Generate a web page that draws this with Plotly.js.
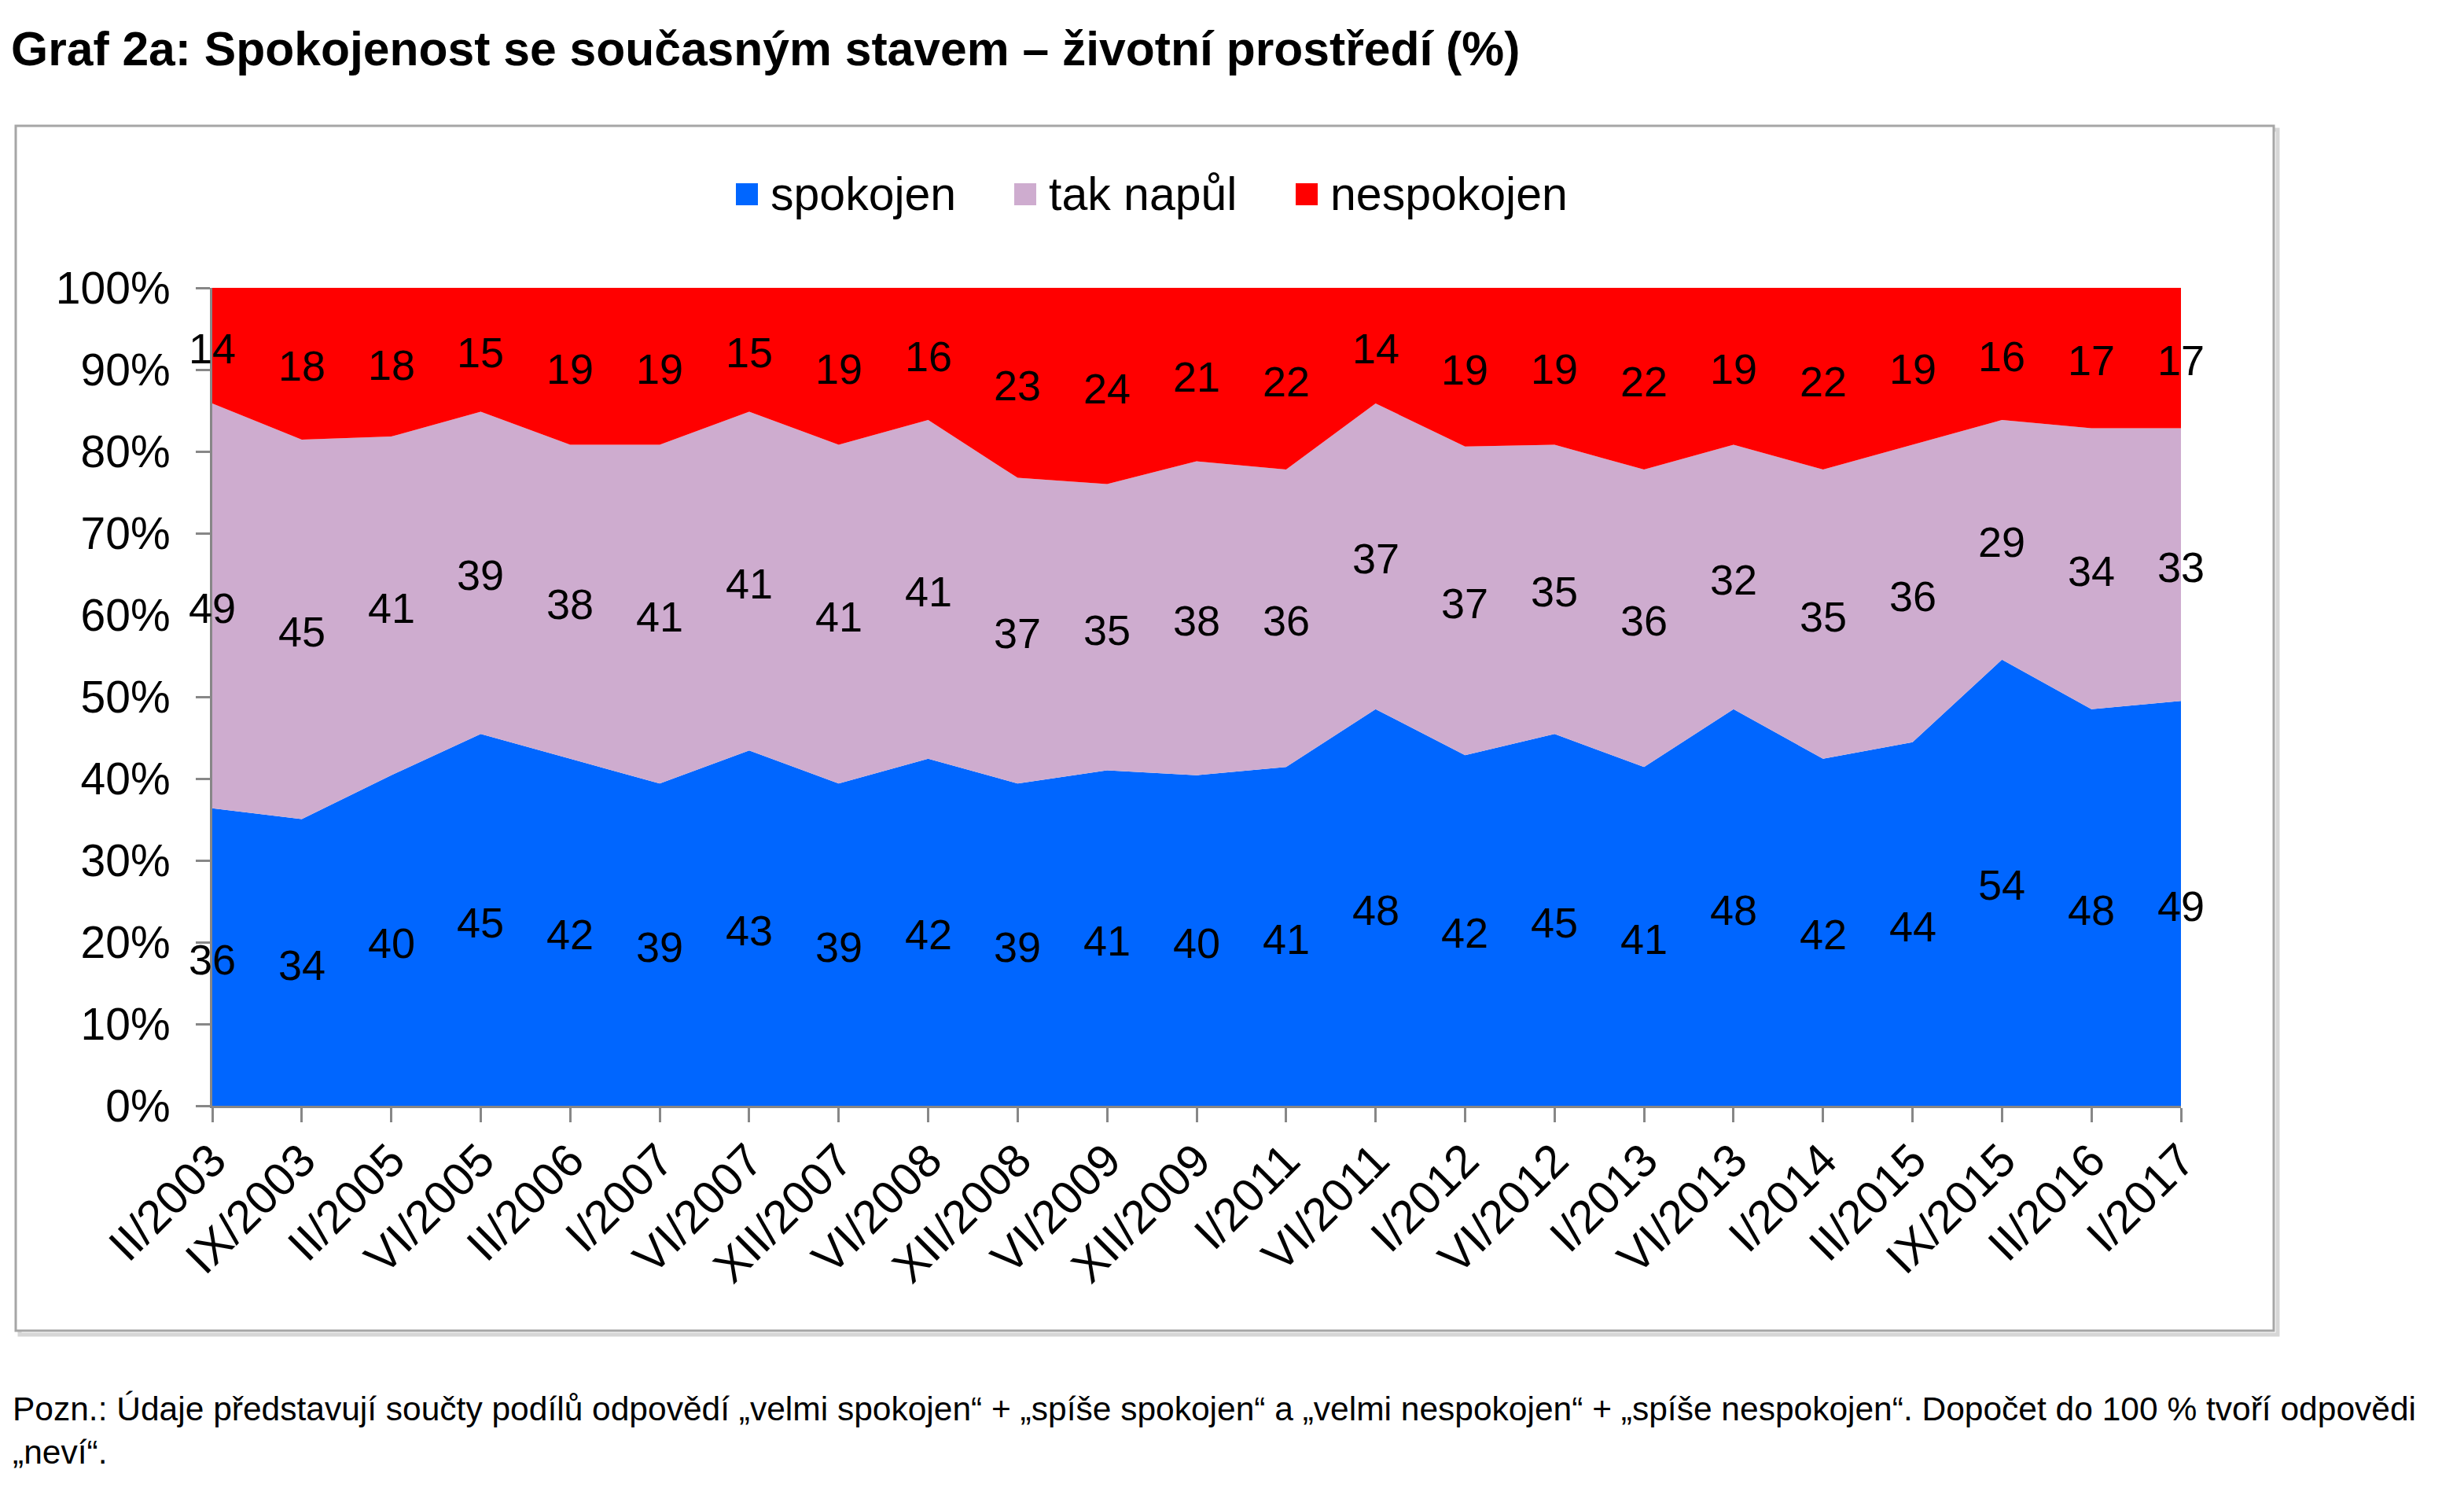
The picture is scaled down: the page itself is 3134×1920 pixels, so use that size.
<!DOCTYPE html>
<html>
<head>
<meta charset="utf-8">
<script src="https://cdn.plot.ly/plotly-3.0.1.min.js"></script>
<style>
  html, body { margin: 0; padding: 0; background: #ffffff; }
  #chart { width: 3134px; height: 1920px; }
</style>
</head>
<body>
<div id="chart"></div>
<script>
// Survey waves
const categories = ['II/2003', 'IX/2003', 'II/2005', 'VI/2005', 'II/2006', 'I/2007', 'VI/2007',
  'XII/2007', 'VI/2008', 'XII/2008', 'VI/2009', 'XII/2009', 'I/2011', 'VI/2011', 'I/2012',
  'VI/2012', 'I/2013', 'VI/2013', 'I/2014', 'II/2015', 'IX/2015', 'II/2016', 'I/2017'];

// Shares of answers (%)
const spokojen   = [36, 34, 40, 45, 42, 39, 43, 39, 42, 39, 41, 40, 41, 48, 42, 45, 41, 48, 42, 44, 54, 48, 49];
const takNapul   = [49, 45, 41, 39, 38, 41, 41, 41, 41, 37, 35, 38, 36, 37, 37, 35, 36, 32, 35, 36, 29, 34, 33];
const nespokojen = [14, 18, 18, 15, 19, 19, 15, 19, 16, 23, 24, 21, 22, 14, 19, 19, 22, 19, 22, 19, 16, 17, 17];

const seriesNames = ['spokojen', 'tak napůl', 'nespokojen'];
const yTickVals = [0, 10, 20, 30, 40, 50, 60, 70, 80, 90, 100];
const yTickText = yTickVals.map(v => v + '%');

const titleText = 'Graf 2a: Spokojenost se současným stavem – životní prostředí (%)';
const noteText = 'Pozn.: Údaje představují součty podílů odpovědí „velmi spokojen“ + „spíše spokojen“ a „velmi nespokojen“ + „spíše nespokojen“. Dopočet do 100 % tvoří odpovědi<br>„neví“.';

// ---- styling / geometry ----
const colors = ['#0066FF', '#CEACCF', '#FF0000'];
const FONT = 'Liberation Sans, Arial, sans-serif';
const W = 3134, H = 1920;
const M = { l: 270, r: 360, t: 366, b: 514 };
const PW = W - M.l - M.r, PH = H - M.t - M.b;
const px = x => (x - M.l) / PW;           // pixel x -> paper x
const py = y => (H - M.b - y) / PH;       // pixel y -> paper y

const series = [spokojen, takNapul, nespokojen];

// Stacked areas normalised to 100 %
const areaTraces = series.map((vals, i) => ({
  type: 'scatter',
  x: categories,
  y: vals,
  name: seriesNames[i],
  stackgroup: 'one',
  groupnorm: i === 0 ? 'percent' : undefined,
  mode: 'none',
  fillcolor: colors[i],
  line: { width: 0 },
  showlegend: false,
  hoverinfo: 'skip'
}));

// Value labels centred inside each band
const valueLabels = [];
series.forEach((vals, i) => {
  vals.forEach((v, k) => {
    const total = spokojen[k] + takNapul[k] + nespokojen[k];
    let below = 0;
    for (let j = 0; j < i; j++) below += series[j][k];
    valueLabels.push({
      xref: 'x', yref: 'y',
      x: categories[k],
      y: (below + v / 2) / total * 100,
      text: String(v),
      showarrow: false,
      xanchor: 'center', yanchor: 'middle',
      yshift: -3,
      font: { family: FONT, size: 54, color: '#000000' }
    });
  });
});

// Legend built from coloured squares and labels
const legendX = [936, 1290, 1648];
const legendY = 247;
const sq = 28;
const legendShapes = seriesNames.map((n, i) => ({
  type: 'rect', xref: 'paper', yref: 'paper',
  x0: px(legendX[i]), x1: px(legendX[i] + sq),
  y0: py(legendY + sq / 2), y1: py(legendY - sq / 2),
  fillcolor: colors[i], line: { width: 0 }
}));
const legendAnnots = seriesNames.map((n, i) => ({
  xref: 'paper', yref: 'paper',
  x: px(legendX[i] + sq + 14), y: py(legendY),
  xanchor: 'left', yanchor: 'middle',
  text: n, showarrow: false,
  font: { family: FONT, size: 59, color: '#000000' }
}));

// Frame around the chart with a soft shadow
const frame = { x0: 20, x1: 2892, y0: 160, y1: 1692 };
const frameShapes = [
  { type: 'rect', xref: 'paper', yref: 'paper', layer: 'below',
    x0: px(frame.x0 + 5), x1: px(frame.x1 + 5), y0: py(frame.y1 + 5), y1: py(frame.y0 + 5),
    line: { color: '#D6D6D6', width: 5 } },
  { type: 'rect', xref: 'paper', yref: 'paper', layer: 'below',
    x0: px(frame.x0), x1: px(frame.x1), y0: py(frame.y1), y1: py(frame.y0),
    line: { color: '#A6A6A6', width: 3 }, fillcolor: '#FFFFFF' }
];

const axisCommon = {
  showline: true, linecolor: '#878787', linewidth: 3,
  ticks: 'outside', ticklen: 18, tickwidth: 3, tickcolor: '#878787',
  showgrid: false, zeroline: false, automargin: false, fixedrange: true
};

const layout = {
  width: W, height: H,
  margin: M,
  paper_bgcolor: '#FFFFFF',
  plot_bgcolor: '#FFFFFF',
  showlegend: false,
  title: {
    text: '<b>' + titleText + '</b>',
    xref: 'container', yref: 'container',
    x: 14 / W, xanchor: 'left',
    y: 1 - 62 / H, yanchor: 'middle',
    font: { family: FONT, size: 60.6, color: '#000000' }
  },
  xaxis: Object.assign({}, axisCommon, {
    type: 'category',
    range: [0, categories.length - 1],
    tickangle: -45,
    tickfont: { family: FONT, size: 59, color: '#000000' },
    ticklabelstandoff: -10
  }),
  yaxis: Object.assign({}, axisCommon, {
    range: [0, 100],
    tickvals: yTickVals,
    ticktext: yTickText,
    tickfont: { family: FONT, size: 57, color: '#000000' },
    ticklabelstandoff: 21
  }),
  shapes: frameShapes.concat(legendShapes),
  annotations: valueLabels.concat(legendAnnots, [{
    xref: 'paper', yref: 'paper',
    x: px(14), y: py(1766),
    xanchor: 'left', yanchor: 'top', align: 'left',
    text: noteText, showarrow: false,
    font: { family: FONT, size: 42.5, color: '#000000' }
  }])
};

Plotly.newPlot('chart', areaTraces, layout, { staticPlot: true });
</script>
</body>
</html>
